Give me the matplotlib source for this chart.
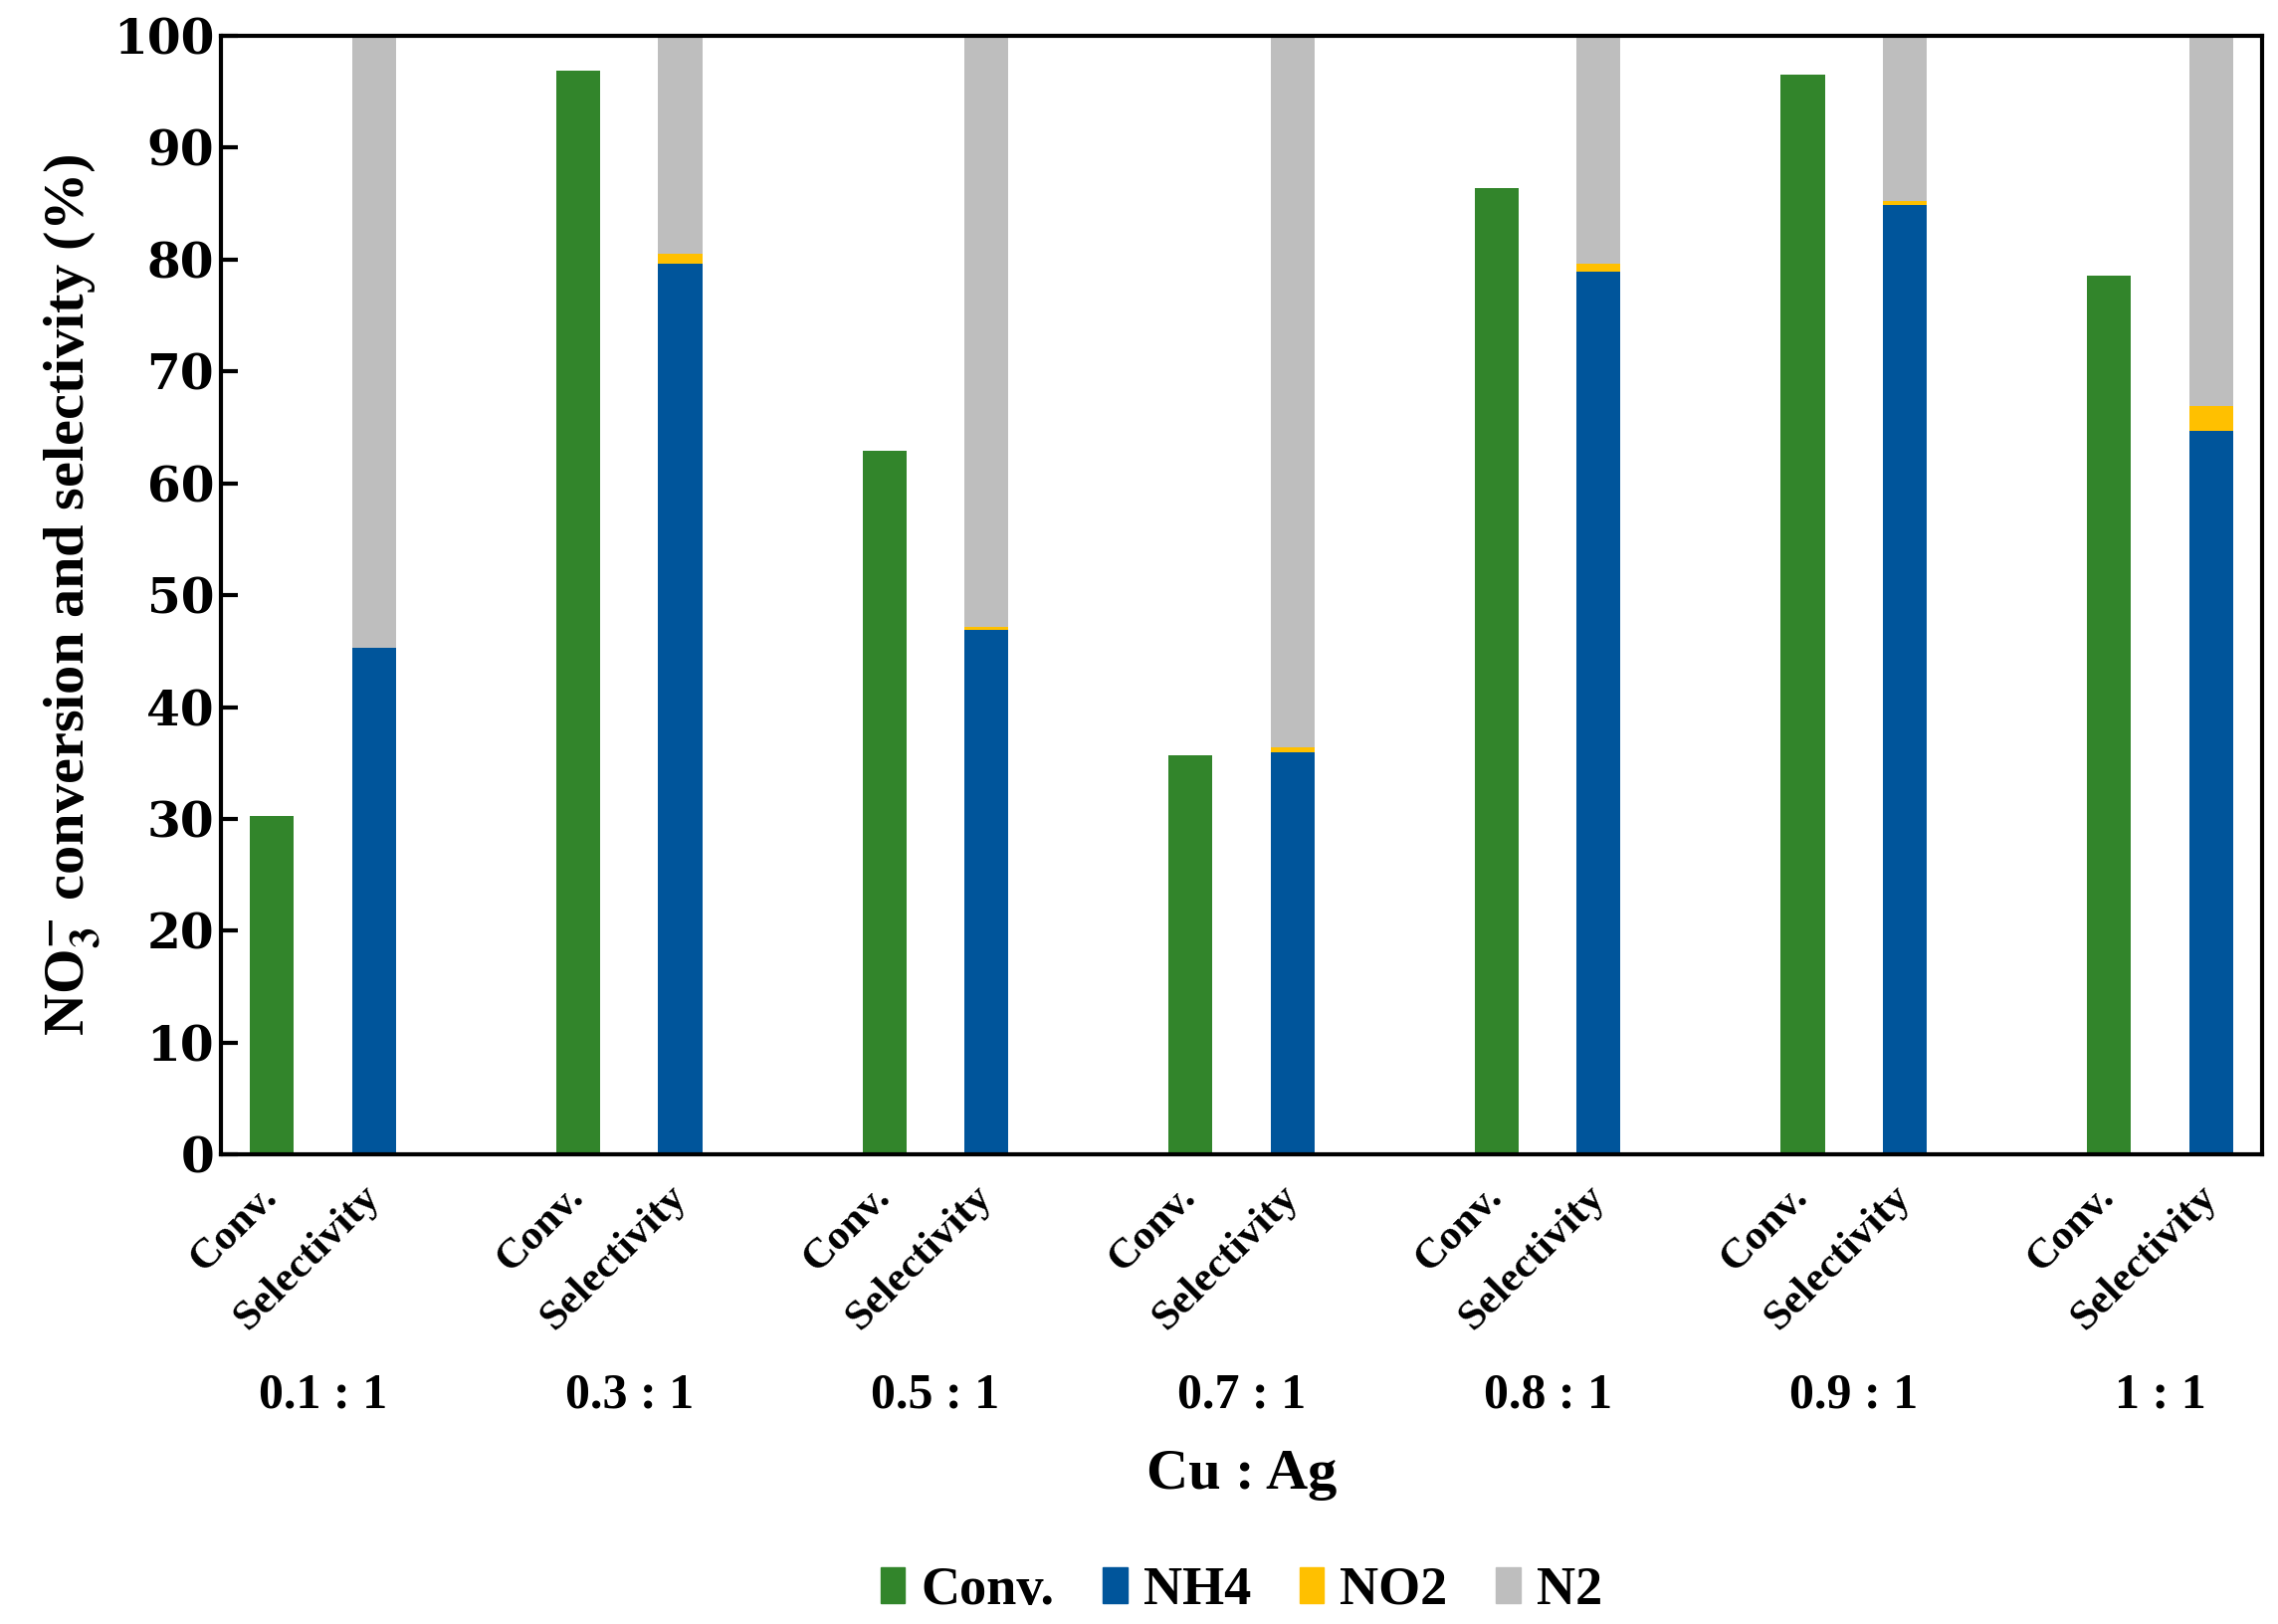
import numpy as np
import matplotlib
matplotlib.use("Agg")
import matplotlib.pyplot as plt
from matplotlib.patches import Patch

# Cu : Ag ratios and measured values (%)
ratios = ["0.1 : 1", "0.3 : 1", "0.5 : 1", "0.7 : 1", "0.8 : 1", "0.9 : 1", "1 : 1"]
conv = [30.3, 96.9, 62.9, 35.7, 86.4, 96.5, 78.6]
nh4 = [45.3, 79.6, 46.9, 36.0, 78.9, 84.9, 64.7]
no2 = [0.0, 0.9, 0.3, 0.4, 0.7, 0.3, 2.2]
n2 = [54.7, 19.5, 52.8, 63.6, 20.4, 14.8, 33.1]
bar_labels = ["Conv.", "Selectivity"]

c_conv = "#32852B"
c_nh4 = "#00559B"
c_no2 = "#FFC000"
c_n2 = "#BEBEBE"

plt.rcParams["font.family"] = ["Liberation Serif", "DejaVu Serif"]
plt.rcParams["font.weight"] = "bold"
plt.rcParams["mathtext.fontset"] = "stix"

fig = plt.figure(figsize=(22.89, 16.32), dpi=100)
ax = fig.add_axes([0.097, 0.289, 0.896, 0.689])

x_conv = np.arange(len(ratios)) * 3
x_sel = x_conv + 1
w = 0.43

nh4 = np.array(nh4)
no2 = np.array(no2)
n2 = np.array(n2)

ax.bar(x_conv, conv, w, color=c_conv)
ax.bar(x_sel, nh4, w, color=c_nh4)
ax.bar(x_sel, no2, w, bottom=nh4, color=c_no2)
ax.bar(x_sel, n2, w, bottom=nh4 + no2, color=c_n2)

ax.set_xlim(-0.5, 19.5)
ax.set_ylim(0, 100)
ax.set_yticks(np.arange(0, 101, 10))
for lab in ax.get_yticklabels():
    lab.set_fontfamily("DejaVu Serif")
    lab.set_fontweight("bold")
    lab.set_fontsize(35)
ax.tick_params(axis="y", direction="in", length=12, width=3, pad=5)

ticks = np.sort(np.concatenate([x_conv, x_sel]))
ax.set_xticks(ticks)
ax.set_xticklabels(bar_labels * len(ratios), rotation=45, ha="right",
                   va="center", rotation_mode="anchor", fontsize=31,
                   fontweight="bold")
ax.tick_params(axis="x", length=0, pad=26)

for s in ax.spines.values():
    s.set_linewidth(3)

for xc, r in zip(x_conv, ratios):
    ax.text(xc + 0.5, -0.215, r, transform=ax.get_xaxis_transform(),
            ha="center", va="center", fontsize=36, fontweight="bold")

ax.text(9.5, -0.286, "Cu : Ag", transform=ax.get_xaxis_transform(),
        ha="center", va="center", fontsize=42, fontweight="bold")

ax.set_ylabel(r"NO$_\mathbf{3}^{\mathbf{-}}$ conversion and selectivity (%)",
              fontsize=42, fontweight="bold", labelpad=8)

handles = [Patch(color=c_conv, label="Conv."), Patch(color=c_nh4, label="NH4"),
           Patch(color=c_no2, label="NO2"), Patch(color=c_n2, label="N2")]
ax.legend(handles=handles, loc="center", bbox_to_anchor=(0.5, -0.39),
          ncol=4, frameon=False, fontsize=39, handlelength=0.45,
          handleheight=0.65, handletextpad=0.3, columnspacing=0.9)

fig.savefig("out.png", dpi=100)
